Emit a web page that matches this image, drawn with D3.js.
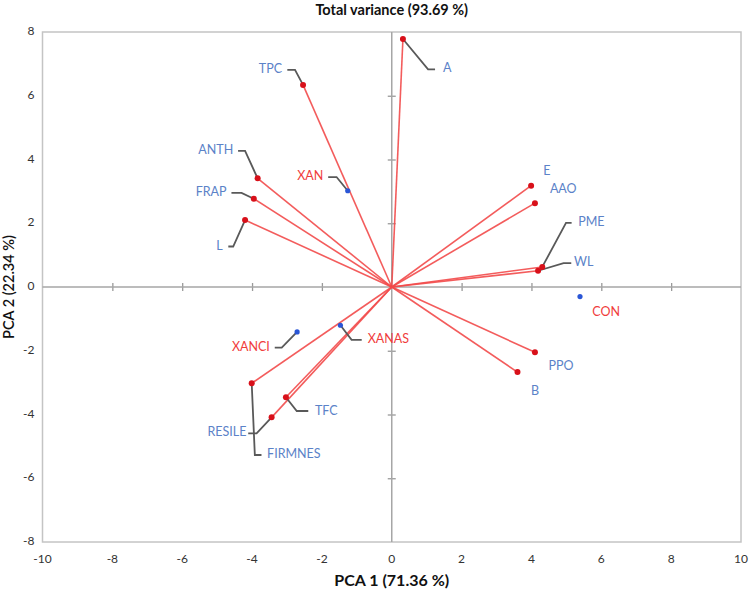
<!DOCTYPE html>
<html><head><meta charset="utf-8">
<script src="https://cdn.jsdelivr.net/npm/d3@7"></script>
<style>
body{margin:0;background:#fff;}
text{font-family:Lato,"Open Sans",sans-serif;}
</style></head>
<body><svg id="c" width="750" height="596"></svg>
<script>
// ---- data ----
const variables = ["A","TPC","ANTH","FRAP","L","E","AAO","PME","WL","PPO","B","FIRMNES","RESILE","TFC"];
const varPC1 = [0.32,-2.54,-3.84,-3.95,-4.20,3.99,4.10,4.31,4.19,4.10,3.60,-4.01,-3.44,-3.03];
const varPC2 = [7.78, 6.34, 3.41, 2.77, 2.10,3.18,2.63,0.63,0.51,-2.05,-2.67,-3.02,-4.09,-3.46];
const samples = ["XAN","CON","XANCI","XANAS"];
const smpPC1 = [-1.26,5.39,-2.71,-1.47];
const smpPC2 = [3.02,-0.30,-1.41,-1.20];
const xTicks = [-10,-8,-6,-4,-2,0,2,4,6,8,10];
const yTicks = [-8,-6,-4,-2,0,2,4,6,8];
const title = "Total variance (93.69 %)";
const xTitle = "PCA 1 (71.36 %)";
const yTitle = "PCA 2 (22.34 %)";

// label layout (data units): name, label x, label y, anchor, leader elbows
const labelLayout = [
 {n:"A",lx:1.47,ly:6.83,a:"start",pts:[[1.04,6.83],[1.24,6.83]]},
 {n:"TPC",lx:-3.14,ly:6.81,a:"end",pts:[[-2.77,6.81],[-2.99,6.81]]},
 {n:"ANTH",lx:-4.54,ly:4.27,a:"end",pts:[[-4.20,4.27],[-4.40,4.27]]},
 {n:"FRAP",lx:-4.73,ly:2.95,a:"end",pts:[[-4.30,2.95],[-4.59,2.95]]},
 {n:"L",lx:-4.84,ly:1.27,a:"end",pts:[[-4.54,1.27],[-4.68,1.27]]},
 {n:"XAN",lx:-1.96,ly:3.45,a:"end",pts:[[-1.58,3.45],[-1.82,3.45]]},
 {n:"E",lx:4.44,ly:3.61,a:"middle",pts:null},
 {n:"AAO",lx:4.91,ly:3.04,a:"middle",pts:null},
 {n:"PME",lx:5.34,ly:2.01,a:"start",pts:[[4.99,2.01],[5.15,2.01]]},
 {n:"WL",lx:5.22,ly:0.75,a:"start",pts:[[4.92,0.75],[5.14,0.75]]},
 {n:"CON",lx:6.14,ly:-0.82,a:"middle",pts:null},
 {n:"PPO",lx:4.85,ly:-2.51,a:"middle",pts:null},
 {n:"B",lx:4.10,ly:-3.29,a:"middle",pts:null},
 {n:"XANCI",lx:-3.49,ly:-1.90,a:"end",pts:[[-3.15,-1.90],[-3.35,-1.90]]},
 {n:"XANAS",lx:-0.69,ly:-1.66,a:"start",pts:[[-1.15,-1.66],[-0.86,-1.66]]},
 {n:"TFC",lx:-2.20,ly:-3.91,a:"start",pts:[[-2.72,-3.89],[-2.39,-3.89]]},
 {n:"RESILE",lx:-4.16,ly:-4.59,a:"end",pts:[[-3.87,-4.59],[-4.11,-4.59]]},
 {n:"FIRMNES",lx:-3.57,ly:-5.27,a:"start",pts:[[-3.92,-5.27],[-3.73,-5.27]]}
];

const svg = d3.select("#c");
const L=42.5,R=741,T=32,B=542;
const x = d3.scaleLinear().domain([-10,10]).range([L,R]);
const y = d3.scaleLinear().domain([-8,8]).range([B,T]);

const blue="#5b82c8", red="#f03c3c", lineRed="#f24a4a", leaderCol="#595959";

// box
svg.append("rect").attr("x",L).attr("y",T).attr("width",R-L).attr("height",B-T)
  .attr("fill","none").attr("stroke","#c4c4c4").attr("stroke-width",1.5);

// axes through origin
const xAxis = d3.axisBottom(x).tickValues(xTicks).tickSize(8).tickFormat("");
const gx = svg.append("g").attr("transform",`translate(0,${y(0)-4})`).call(xAxis);
gx.select(".domain").remove();
gx.selectAll("line").attr("stroke","#9a9a9a").attr("stroke-width",1.3);
gx.selectAll(".tick").filter(d=>d===-10||d===10||d===0).remove();
svg.append("line").attr("x1",L).attr("x2",R).attr("y1",y(0)).attr("y2",y(0)).attr("stroke","#a6a6a6").attr("stroke-width",1.5);

const yAxis = d3.axisLeft(y).tickValues(yTicks).tickSize(8).tickFormat("");
const gy = svg.append("g").attr("transform",`translate(${x(0)+4},0)`).call(yAxis);
gy.select(".domain").remove();
gy.selectAll("line").attr("stroke","#9a9a9a").attr("stroke-width",1.3);
gy.selectAll(".tick").filter(d=>d===-8||d===8||d===0).remove();
svg.append("line").attr("x1",x(0)).attr("x2",x(0)).attr("y1",T).attr("y2",B).attr("stroke","#a6a6a6").attr("stroke-width",1.5);

// tick labels
svg.append("g").selectAll("text").data(xTicks).join("text")
  .attr("x",d=>x(d)).attr("y",B+21).attr("text-anchor","middle")
  .attr("font-size",12).attr("fill","#333").text(d=>d);
svg.append("g").selectAll("text").data(yTicks).join("text")
  .attr("x",L-8).attr("y",d=>y(d)).attr("text-anchor","end").attr("dominant-baseline","middle")
  .attr("font-size",12).attr("fill","#333").text(d=>d);

// titles
svg.append("text").attr("x",x(0)).attr("y",15).attr("text-anchor","middle")
  .attr("font-size",14.5).attr("font-weight","bold").attr("fill","#111").text(title);
svg.append("text").attr("x",x(0)).attr("y",586).attr("text-anchor","middle")
  .attr("font-size",16).attr("font-weight","bold").attr("fill","#111").text(xTitle);
svg.append("text").attr("transform",`translate(14,${y(0)}) rotate(-90)`).attr("text-anchor","middle")
  .attr("font-size",14.5).attr("font-weight","600").attr("fill","#111").text(yTitle);

// vectors
const vars = variables.map((n,i)=>({n,px:varPC1[i],py:varPC2[i]}));
const smps = samples.map((n,i)=>({n,px:smpPC1[i],py:smpPC2[i]}));
svg.append("g").selectAll("line").data(vars).join("line")
  .attr("x1",x(0)).attr("y1",y(0)).attr("x2",d=>x(d.px)).attr("y2",d=>y(d.py))
  .attr("stroke",lineRed).attr("stroke-width",1.6).attr("stroke-opacity",0.9);

// leaders
const pos = {};
vars.forEach(d=>pos[d.n]=d); smps.forEach(d=>pos[d.n]=d);
const line = d3.line().x(d=>x(d[0])).y(d=>y(d[1]));
svg.append("g").selectAll("path").data(labelLayout.filter(d=>d.pts)).join("path")
  .attr("d",d=>line([[pos[d.n].px,pos[d.n].py],...d.pts]))
  .attr("fill","none").attr("stroke",leaderCol).attr("stroke-width",1.8);

// points
svg.append("g").selectAll("circle").data(vars).join("circle")
  .attr("cx",d=>x(d.px)).attr("cy",d=>y(d.py)).attr("r",3).attr("fill","#d8101a");
svg.append("g").selectAll("circle").data(smps).join("circle")
  .attr("cx",d=>x(d.px)).attr("cy",d=>y(d.py)).attr("r",2.6).attr("fill","#2a56d6");

// labels
const isSample = new Set(samples);
svg.append("g").selectAll("text").data(labelLayout).join("text")
  .attr("x",d=>x(d.lx)).attr("y",d=>y(d.ly)).attr("text-anchor",d=>d.a)
  .attr("dominant-baseline","middle").attr("font-size",12.5)
  .attr("fill",d=>isSample.has(d.n)?red:blue).text(d=>d.n);
</script></body></html>
